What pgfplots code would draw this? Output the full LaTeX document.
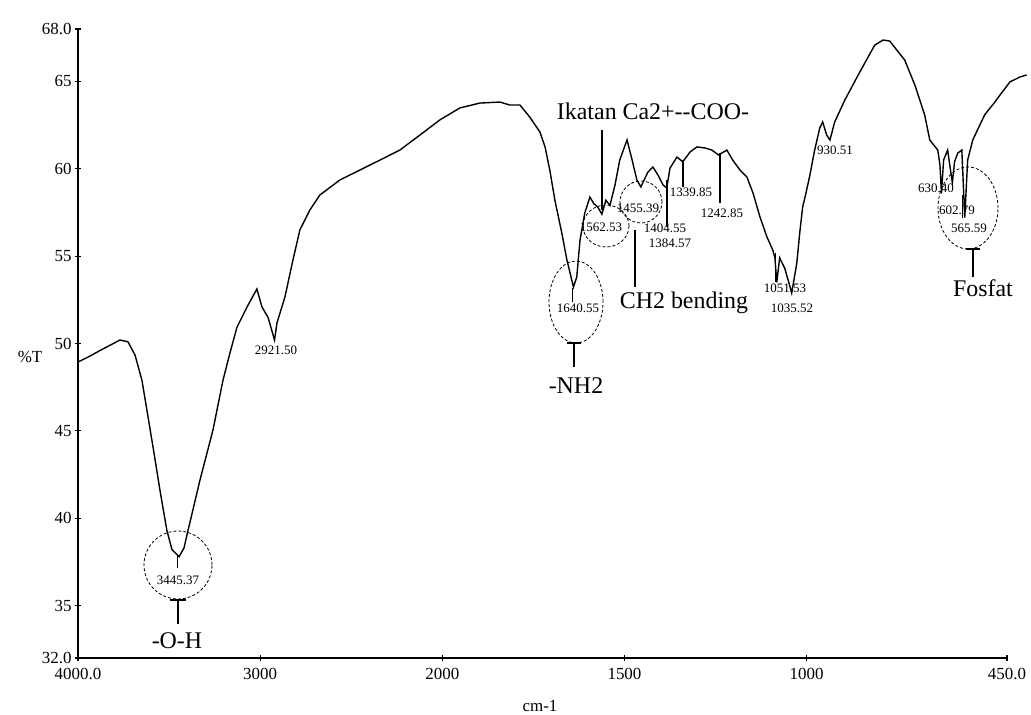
\documentclass[border=0pt]{standalone}
\usepackage{fontspec}
\setmainfont{Liberation Serif}
\usepackage{pgfplots}
\pgfplotsset{compat=1.18}
\newcommand\sm{\fontsize{13}{14}\selectfont}
\newcommand\bg{\fontsize{24}{26}\selectfont}
\begin{document}
\begin{tikzpicture}
\begin{axis}[
  scale only axis, width=929bp, height=629bp,
  x coord trafo/.code={\pgfmathparse{#1>=2000?4000-#1:6000-2*#1}},
  x coord inv trafo/.code={\pgfmathparse{#1<=2000?4000-#1:(6000-#1)/2}},
  xmin=4000, xmax=450, ymin=32, ymax=68,
  axis x line*=bottom, axis y line*=left,
  axis line style={line width=2.5bp, -},
  xtick={4000,3000,2000,1500,1000,450},
  xticklabels={4000.0,3000,2000,1500,1000,450.0},
  ytick={32,35,40,45,50,55,60,65,68},
  yticklabels={32.0,35,40,45,50,55,60,65,68.0},
  tick style={black, line width=1.2bp}, major tick length=6bp, tick align=center,
  ticklabel style={font=\fontsize{17}{18}\selectfont},
  xticklabel style={yshift=-4bp},
  clip=false,
]
\addplot[black, line width=1.4bp] table {
4000 48.94
3934 49.28
3879 49.60
3824 49.90
3770 50.20
3726 50.10
3687 49.34
3649 47.90
3588 44.07
3550 41.60
3512 39.30
3484 38.20
3445 37.80
3418 38.30
3396 39.30
3330 42.20
3259 45.05
3204 47.90
3166 49.45
3127 50.94
3072 52.09
3018 53.12
2990 52.09
2957 51.50
2921 50.20
2908 51.17
2864 52.66
2820 54.78
2782 56.50
2727 57.64
2672 58.50
2562 59.36
2452 59.93
2342 60.50
2233 61.07
2123 61.93
2013 62.80
1952 63.48
1897 63.76
1842 63.82
1815 63.65
1787 63.65
1760 62.96
1732 62.10
1718 61.25
1705 59.93
1691 58.20
1672 56.32
1658 54.78
1640 53.23
1631 53.80
1622 55.92
1609 57.47
1595 58.38
1584 58.00
1573 57.80
1562 57.40
1551 58.20
1540 57.90
1526 59.07
1513 60.50
1493 61.65
1479 60.50
1466 59.36
1455 58.96
1436 59.80
1422 60.10
1408 59.64
1394 59.07
1384 58.90
1375 60.04
1356 60.67
1340 60.40
1320 60.96
1301 61.25
1279 61.19
1260 61.07
1242 60.79
1219 61.07
1203 60.50
1183 59.93
1164 59.53
1147 58.60
1128 57.24
1109 56.10
1093 55.35
1087 54.90
1082 53.50
1074 54.90
1060 54.30
1047 53.35
1041 52.89
1027 54.60
1019 56.32
1011 57.80
1003 58.50
991 59.64
978 61.07
964 62.33
956 62.68
945 61.93
936 61.65
923 62.68
895 63.94
854 65.54
813 67.08
790 67.37
772 67.31
731 66.23
703 64.80
676 63.08
662 61.65
640 61.07
634 60.20
630 58.60
624 60.50
613 61.07
607 60.20
600 59.20
594 60.40
585 60.90
574 61.07
566 57.20
558 60.50
544 61.65
511 63.10
484 63.80
470 64.20
450 64.75
442 64.97
415 65.25
396 65.37
};
\coordinate (O) at (rel axis cs:0,0);
\end{axis}
\begin{scope}[shift={(O)}, xshift=-78bp, yshift=658bp, x=1bp, y=-1bp,
  dsh/.style={line width=0.8bp, dash pattern=on 3bp off 2bp}]
  % axis titles
  \node[font=\fontsize{17}{18}\selectfont] at (30,357) {\%T};
  \node[font=\fontsize{17}{18}\selectfont] at (540,706) {cm-1};
  % O-H
  \draw[dsh] (178,565) circle [radius=34bp];
  \draw[line width=0.8bp] (177,556) -- (177,568);
  \node[font=\sm] at (178,580) {3445.37};
  \draw[line width=1.4bp] (178,600) -- (178,624);
  \draw[line width=1.4bp] (170,600) -- (186,600);
  \node[font=\bg] at (177,641) {-O-H};
  % 2921
  \node[font=\sm] at (276,350) {2921.50};
  % NH2
  \draw[dsh] (576,302) ellipse [x radius=27bp, y radius=41bp];
  \draw[line width=0.8bp] (572,288) -- (572,302);
  \node[font=\sm] at (578,308) {1640.55};
  \draw[line width=1.4bp] (574,343) -- (574,367);
  \draw[line width=1.4bp] (567,343) -- (581,343);
  \node[font=\bg] at (576,386) {-NH2};
  % Ca-COO
  \node[font=\bg] at (653,111) {Ikatan Ca2+{-}{-}COO-};
  \draw[line width=1.2bp] (602,130) -- (602,210);
  \draw[dsh] (606,226) ellipse [x radius=23bp, y radius=21bp];
  \node[font=\sm] at (601,227) {1562.53};
  % CH2 bending
  \draw[dsh] (641,202) circle [radius=21bp];
  \node[font=\sm] at (638,208) {1455.39};
  \draw[line width=1.4bp] (635,230) -- (635,287);
  \node[font=\bg] at (684,303) {CH2 bending};
  \draw[line width=1.2bp] (667,180) -- (667,227);
  \node[font=\sm] at (665,228) {1404.55};
  \node[font=\sm] at (670,243) {1384.57};
  \draw[line width=1.2bp] (683,160) -- (683,187);
  \node[font=\sm] at (691,192) {1339.85};
  \draw[line width=1.2bp] (720,153) -- (720,203);
  \node[font=\sm] at (722,213) {1242.85};
  % 1051 / 1035
  \draw[line width=1bp] (775,253) -- (775,282);
  \node[font=\sm] at (785,288) {1051.53};
  \node[font=\sm] at (792,308) {1035.52};
  \node[font=\sm] at (835,150) {930.51};
  % Fosfat
  \draw[dsh] (968,208) ellipse [x radius=30bp, y radius=41bp];
  \draw[line width=1bp] (962,195) -- (962,218);
  \node[font=\sm] at (936,188) {630.40};
  \node[font=\sm] at (957,210) {602.79};
  \node[font=\sm] at (969,228) {565.59};
  \draw[line width=1.4bp] (973,249) -- (973,277);
  \draw[line width=1.4bp] (966,249) -- (980,249);
  \node[font=\bg] at (983,288) {Fosfat};
\end{scope}
\pgfresetboundingbox
\path (O) ++(-78bp,-57bp) rectangle ++(1031bp,715bp);
\end{tikzpicture}
\end{document}
